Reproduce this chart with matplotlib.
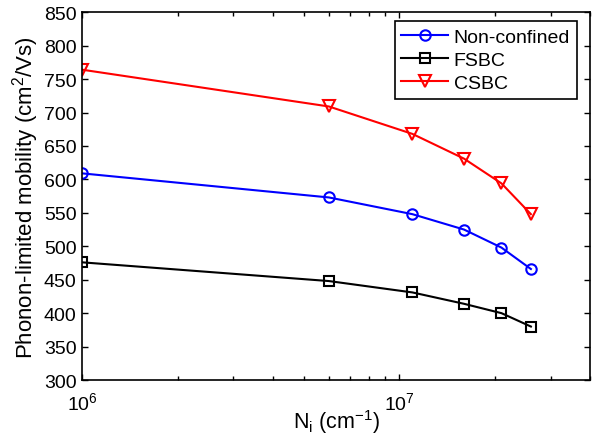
import matplotlib
matplotlib.use('agg')
import matplotlib.pyplot as plt

# impurity density (cm^-1) and mobility values (cm^2/Vs)
ni = [1e6, 6e6, 1.1e7, 1.6e7, 2.1e7, 2.6e7]
non_confined = [609, 573, 548, 525, 498, 466]
fsbc = [476, 448, 431, 414, 400, 380]
csbc = [764, 709, 668, 631, 594, 548]

plt.rcParams['font.family'] = ['Liberation Sans', 'DejaVu Sans']
plt.rcParams['mathtext.fontset'] = 'custom'
plt.rcParams['mathtext.rm'] = 'Liberation Sans'
plt.rcParams['mathtext.it'] = 'Liberation Sans'
plt.rcParams['font.size'] = 14

fig = plt.figure(figsize=(5.95, 4.39), dpi=100)
ax = fig.add_axes([0.138, 0.132, 0.854, 0.838])

ax.plot(ni, non_confined, '-o', color='b', lw=1.5, ms=7.5, mew=1.5, mfc='none', label='Non-confined')
ax.plot(ni, fsbc, '-s', color='k', lw=1.5, ms=7, mew=1.5, mfc='none', label='FSBC')
ax.plot(ni, csbc, '-v', color='r', lw=1.5, ms=8, mew=1.5, mfc='none', label='CSBC')

ax.set_xscale('log')
ax.set_xlim(1e6, 4e7)
ax.set_ylim(300, 850)
ax.set_yticks(range(300, 851, 50))

ax.tick_params(which='both', direction='in', top=True, right=True, width=1)
ax.tick_params(which='major', length=4.5, pad=8, axis='x')
ax.tick_params(which='major', length=4.5, pad=4, axis='y')
ax.tick_params(which='minor', length=3)
for s in ax.spines.values():
    s.set_linewidth(1.2)

ax.set_xlabel(r'N$_\mathrm{i}$ (cm$^{-1}$)', fontsize=15.5, labelpad=-4)
ax.set_ylabel(r'Phonon-limited mobility (cm$^2$/Vs)', fontsize=16, labelpad=2)

lgd = ax.legend(loc='upper right', bbox_to_anchor=(0.974, 0.975), fancybox=False, framealpha=1,
                edgecolor='k', fontsize=14, handlelength=2.4, borderpad=0.35, labelspacing=0.28,
                handletextpad=0.3, borderaxespad=0)
lgd.get_frame().set_linewidth(1.2)

plt.savefig('out.png', dpi=100)
